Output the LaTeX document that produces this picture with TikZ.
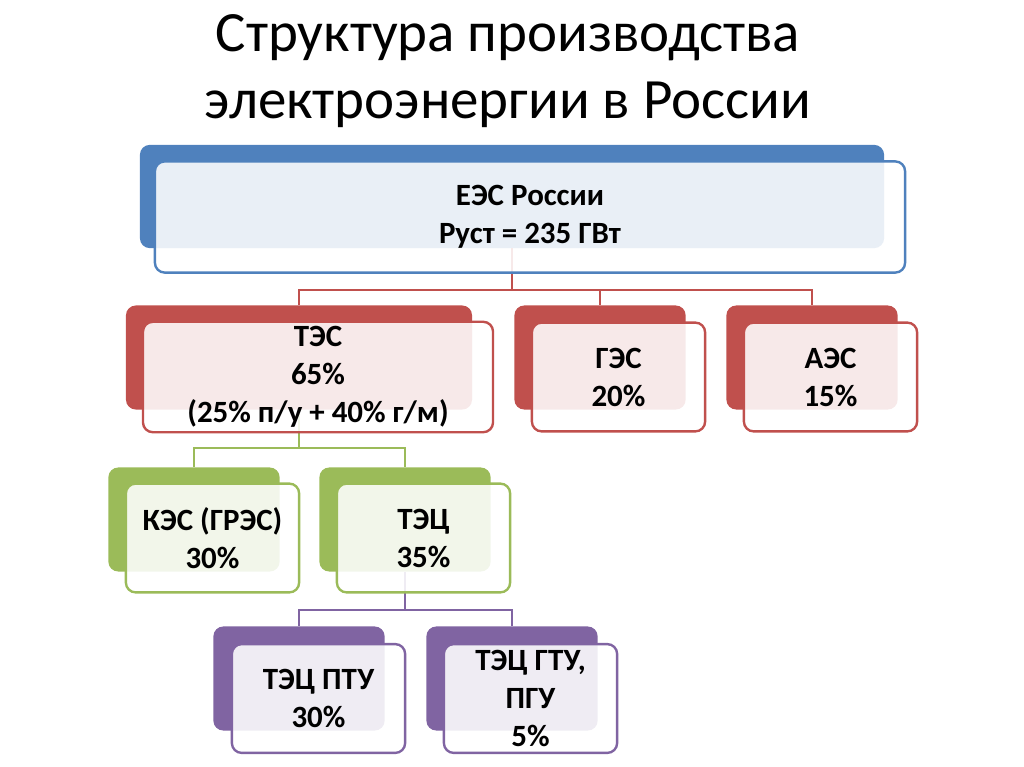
\documentclass[tikz,border=0pt]{standalone}
\usepackage{fontspec}
\setmainfont{Carlito}
\usetikzlibrary{positioning}

\definecolor{blueA}{HTML}{4F81BD}
\definecolor{redA}{HTML}{C0504D}
\definecolor{greenA}{HTML}{9BBB59}
\definecolor{purpleA}{HTML}{8064A2}

\begin{document}
\begin{tikzpicture}[
    x=0.025cm, y=-0.025cm,
    backbox/.style={rectangle, rounded corners=7pt, inner sep=0pt, minimum width=4.28cm, minimum height=2.6cm},
    frontbox/.style={rectangle, rounded corners=7pt, line width=1.7pt, fill=white, fill opacity=0.88, text opacity=1, align=center, minimum width=4.33cm, minimum height=2.72cm, font=\bfseries\fontsize{22}{27}\selectfont},
    link/.style={line width=1.8pt}
]
    \useasboundingbox (0,0) rectangle (1024,767);

    \node[font=\fontsize{40.5}{47.5}\selectfont, align=center] (title) at (508,71) {Структура производства\\электроэнергии в России};

    % back boxes
    \node[backbox, fill=blueA, minimum width=18.6cm, minimum height=2.58cm] (eesb) at (512,196.5) {};
    \node[backbox, fill=redA, minimum width=8.65cm] (tesb) at (299,357.5) {};
    \node[backbox, fill=redA] (gesb) at (600,357.5) {};
    \node[backbox, fill=redA] (aesb) at (812,357.5) {};
    \node[backbox, fill=greenA] (kesb) at (194,519.5) {};
    \node[backbox, fill=greenA] (tecb) at (405,519.5) {};
    \node[backbox, fill=purpleA] (ptub) at (299,678.5) {};
    \node[backbox, fill=purpleA] (gtub) at (512,678.5) {};

    % connectors
    \coordinate (j1) at (512,290);
    \coordinate (j2) at (299,448);
    \coordinate (j3) at (405,610);
    \draw[link, redA] (eesb.south) -- (j1) -| (tesb.north);
    \draw[link, redA] (j1) -| (gesb.north);
    \draw[link, redA] (j1) -| (aesb.north);
    \draw[link, greenA] (tesb.south) -- (j2) -| (kesb.north);
    \draw[link, greenA] (j2) -| (tecb.north);
    \draw[link, purpleA] (tecb.south) -- (j3) -| (ptub.north);
    \draw[link, purpleA] (j3) -| (gtub.north);

    % front boxes
    \node[frontbox, draw=blueA, minimum width=18.75cm, minimum height=2.78cm] (ees) at (530,217) {ЕЭС России\\Руст = 235 ГВт};
    \node[frontbox, draw=redA, minimum width=8.75cm] (tes) at (318,377) {ТЭС\\65\%\\(25\% п/у + 40\% г/м)};
    \node[frontbox, draw=redA] (ges) at (618.5,377) {ГЭС\\20\%};
    \node[frontbox, draw=redA] (aes) at (830.5,377) {АЭС\\15\%};
    \node[frontbox, draw=greenA] (kes) at (212.5,538) {КЭС (ГРЭС)\\30\%};
    \node[frontbox, draw=greenA] (tec) at (423.5,538) {ТЭЦ\\35\%};
    \node[frontbox, draw=purpleA] (ptu) at (318.5,698.5) {ТЭЦ ПТУ\\30\%};
    \node[frontbox, draw=purpleA] (gtu) at (530.5,698.5) {ТЭЦ ГТУ,\\ПГУ\\5\%};
\end{tikzpicture}
\end{document}
